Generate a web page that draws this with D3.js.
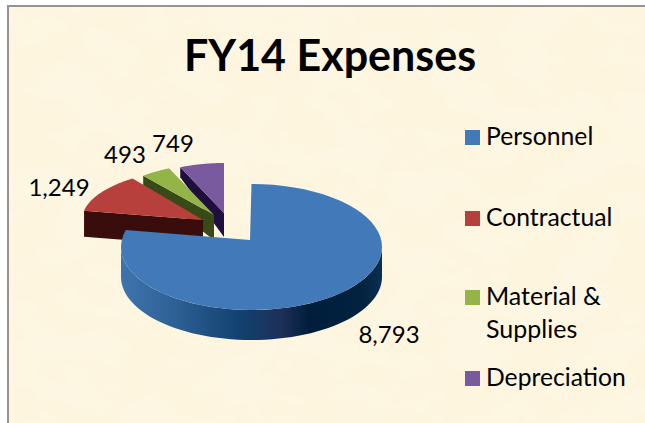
<!DOCTYPE html>
<html><head><meta charset="utf-8">
<script src="https://cdn.jsdelivr.net/npm/d3@7"></script>
<style>html,body{margin:0;padding:0;background:#fff}svg{display:block}text{font-family:Lato,"Open Sans",sans-serif;fill:#000}</style>
</head><body><svg id="c" width="645" height="423"></svg>
<script>
const categories = ["Personnel","Contractual","Material & Supplies","Depreciation"];
const values = [8793,1249,493,749];
const labels = ["8,793","1,249","493","749"];
const colors = ["#4279b8","#b8403c","#93b447","#7a5a9e"];
const sideColors = [null,"#3a0d0d","#384a18","#1f0f3e"];

const svg = d3.select("#c");
const defs = svg.append("defs");
const filt = defs.append("filter").attr("id","paper").attr("x",0).attr("y",0).attr("width","100%").attr("height","100%");
filt.append("feTurbulence").attr("type","fractalNoise").attr("baseFrequency","0.018 0.03").attr("numOctaves",3).attr("seed",7).attr("result","n");
filt.append("feColorMatrix").attr("in","n").attr("type","matrix").attr("values","0 0 0 0 0.98  0 0 0 0 0.91  0 0 0 0 0.72  3 0 0 0 -1.1").attr("result","t");
filt.append("feMerge").call(m=>m.append("feMergeNode").attr("in","t"));
const grad = defs.append("linearGradient").attr("id","wall").attr("gradientUnits","userSpaceOnUse").attr("x1",120).attr("x2",382).attr("y1",0).attr("y2",0);
[[0,"#3f74ae"],[0.22,"#2c5f93"],[0.45,"#124270"],[0.62,"#1d2f58"],[0.72,"#001e3c"],[0.92,"#02223f"],[1,"#0a3050"]].forEach(s=>grad.append("stop").attr("offset",s[0]).attr("stop-color",s[1]));

svg.append("rect").attr("x",8).attr("y",6).attr("width",637).attr("height",417).attr("fill","#fdf6e2");
svg.append("rect").attr("x",8).attr("y",6).attr("width",637).attr("height",417).attr("filter","url(#paper)");
svg.append("path").attr("d","M8 423V6H645").attr("fill","none").attr("stroke","#939393").attr("stroke-width",2);

svg.append("text").attr("x",330).attr("y",71).attr("text-anchor","middle").attr("font-size",43).attr("font-weight",700).text("FY14 Expenses");

const slices = d3.pie().sort(null).value(d=>d)(values);
// slice geometry: apex, ellipse centre and radii per slice (exploded pie in perspective)
const geom = [
 {ax:250,ay:240,cx:251.5,cy:247,rx:130.5,ry:63,endNudge:0.09,d0:0,d1:0},
 {ax:203,ay:220,cx:203,cy:220,rx:121,ry:51,endNudge:0.07,d0:26,d1:26},
 {ax:214,ay:215,cx:214,cy:215,rx:111,ry:51,endNudge:0,d0:10,d1:25},
 {ax:224,ay:213,cx:224,cy:213,rx:108,ry:50,endNudge:0,d0:10,d1:24}
];
const pt=(g,t)=>[g.cx+g.rx*Math.sin(t),g.cy-g.ry*Math.cos(t)];
const arcPts=(g,a,b)=>d3.range(0,1.0001,1/60).map(u=>pt(g,a+(b-a)*u));
const line=d3.line();

[3,2,1].forEach(i=>{
  const g=geom[i],s=slices[i],p=pt(g,s.startAngle);
  svg.append("path").attr("fill",sideColors[i]).attr("d",line([p,[g.ax,g.ay],[g.ax,g.ay+g.d1],[p[0],p[1]+g.d0]])+"Z");
  svg.append("path").attr("fill",colors[i]).attr("d",line([[g.ax,g.ay],...arcPts(g,s.startAngle,s.endAngle+g.endNudge)])+"Z");
});

// Personnel: outer wall + top face
const b=geom[0],bs=slices[0],depth=30;
const wallTop=arcPts(b,Math.PI/2,Math.PI*1.5);
svg.append("path").attr("fill","url(#wall)").attr("d",line([...wallTop,...wallTop.slice().reverse().map(p=>[p[0],p[1]+depth])])+"Z");
svg.append("path").attr("fill",colors[0]).attr("d",line([[b.ax,b.ay],...arcPts(b,bs.startAngle,bs.endAngle+b.endNudge)])+"Z");

// data labels
const labelPos=[[389,343],[59,196],[125,163],[173,152]];
labels.forEach((t,i)=>svg.append("text").attr("x",labelPos[i][0]).attr("y",labelPos[i][1]).attr("text-anchor","middle").attr("font-size",24).text(t));

// legend
const legendY=[137,218,297,378];
categories.forEach((c,i)=>{
  svg.append("rect").attr("x",465).attr("y",legendY[i]-7).attr("width",15).attr("height",15).attr("fill",colors[i]);
  if(c.includes("&")){
    svg.append("text").attr("x",486).attr("y",legendY[i]+8).attr("font-size",25).text("Material &");
    svg.append("text").attr("x",486).attr("y",legendY[i]+41).attr("font-size",25).text("Supplies");
  } else svg.append("text").attr("x",486).attr("y",legendY[i]+8).attr("font-size",24.7).text(c);
});
</script></body></html>
